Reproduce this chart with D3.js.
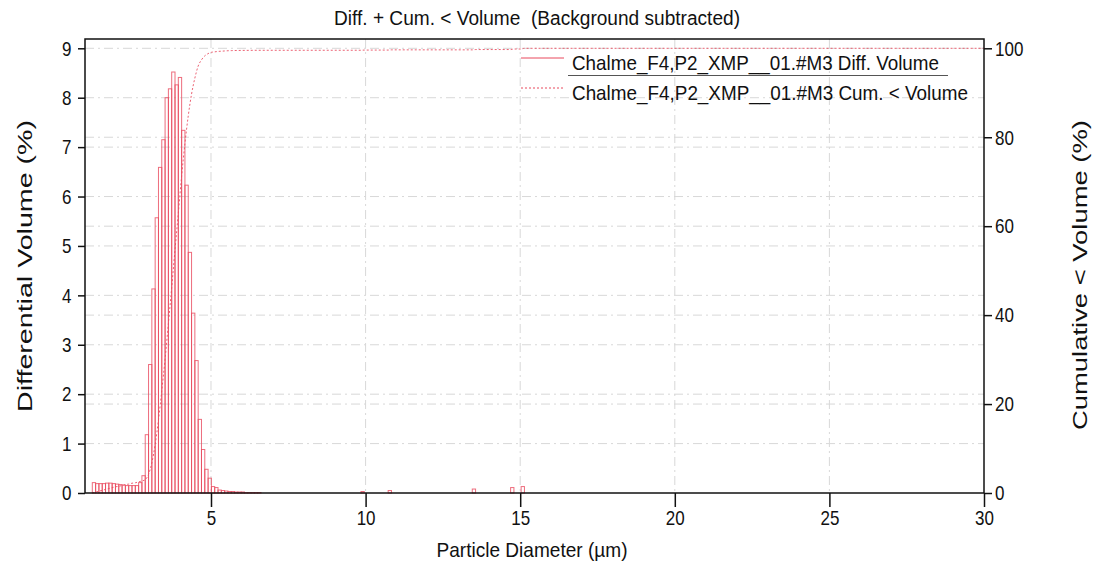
<!DOCTYPE html>
<html>
<head>
<meta charset="utf-8">
<script src="https://cdn.jsdelivr.net/npm/d3@7"></script>
<style>
  html, body { margin: 0; padding: 0; background: #fff; }
  svg text { font-family: "Liberation Sans", Arial, sans-serif; fill: #111; white-space: pre; }
</style>
</head>
<body>
<svg id="chart" width="1095" height="572"></svg>
<script>
// Bin lower edges (µm) of the differential volume histogram
const binEdges = [
  1.161, 1.268, 1.375, 1.482, 1.589, 1.696, 1.803, 1.910, 2.017, 2.124,
  2.231, 2.338, 2.445, 2.552, 2.659, 2.766, 2.873, 2.980, 3.087, 3.194,
  3.301, 3.408, 3.515, 3.622, 3.729, 3.836, 3.943, 4.050, 4.157, 4.264,
  4.371, 4.478, 4.585, 4.692, 4.799, 4.906, 5.013, 5.120, 5.227, 5.334,
  5.441, 5.548, 5.655, 5.762, 5.869, 5.976, 6.083, 6.190, 6.297, 6.404,
  6.511, 9.850, 10.730, 13.450, 14.690, 15.030
];
// Differential volume (%) per bin
const diffVolume = [
  0.21, 0.19, 0.19, 0.19, 0.20, 0.20, 0.19, 0.18, 0.17, 0.16,
  0.15, 0.15, 0.15, 0.15, 0.21, 0.35, 1.18, 2.60, 4.13, 5.57,
  6.59, 7.15, 8.00, 8.18, 8.52, 8.26, 8.41, 7.34, 6.23, 4.87,
  3.64, 2.68, 1.49, 0.88, 0.48, 0.30, 0.13, 0.11, 0.06, 0.05,
  0.04, 0.03, 0.03, 0.02, 0.02, 0.02, 0.01, 0.01, 0.01, 0.01,
  0.01, 0.03, 0.05, 0.08, 0.11, 0.13
];
const binWidth = 0.107;

// Cumulative < volume (%) sampled along the diameter axis
const cumDiameter = [
  1.161, 1.268, 1.375, 1.482, 1.589, 1.696, 1.803, 1.910, 2.017, 2.124,
  2.231, 2.338, 2.445, 2.552, 2.659, 2.766, 2.873, 2.980, 3.087, 3.194,
  3.301, 3.408, 3.515, 3.622, 3.729, 3.836, 3.943, 4.050, 4.157, 4.264,
  4.371, 4.478, 4.585, 4.692, 4.799, 4.906, 5.013, 5.120, 5.227, 5.334,
  5.441, 5.548, 5.655, 6.000, 6.618, 9.850, 9.957, 10.730, 10.837,
  13.450, 13.557, 14.690, 14.797, 15.030, 15.137, 30.000
];
const cumVolume = [
  0.0, 0.2, 0.4, 0.6, 0.8, 1.0, 1.2, 1.4, 1.5, 1.7,
  1.9, 2.0, 2.2, 2.3, 2.5, 2.7, 3.0, 4.2, 6.8, 10.9,
  16.4, 23.0, 30.1, 38.1, 46.2, 54.7, 62.9, 71.3, 78.6, 84.8,
  89.7, 93.3, 96.0, 97.4, 98.3, 98.8, 99.1, 99.2, 99.3, 99.35,
  99.4, 99.45, 99.48, 99.52, 99.55, 99.56, 99.6, 99.6, 99.65,
  99.65, 99.72, 99.72, 99.84, 99.84, 100.0, 100.0
];

// Axis ticks
const xTicks = [5, 10, 15, 20, 25, 30];
const yLeftTicks = [0, 1, 2, 3, 4, 5, 6, 7, 8, 9];
const yRightTicks = [0, 20, 40, 60, 80, 100];

const titleText = "Diff. + Cum. < Volume  (Background subtracted)";
const xLabel = "Particle Diameter (\u00b5m)";
const yLeftLabel = "Differential Volume (%)";
const yRightLabel = "Cumulative < Volume (%)";
const legendLabels = [
  "Chalme_F4,P2_XMP__01.#M3 Diff. Volume",
  "Chalme_F4,P2_XMP__01.#M3 Cum. < Volume"
];

const red = "#e8485c";
const plot = { left: 85, right: 984, top: 39, bottom: 493 };

const svg = d3.select("#chart");

const x = d3.scaleLinear().domain([0.925, 30]).range([plot.left, plot.right]);
const yL = d3.scaleLinear().domain([0, 9]).range([plot.bottom, 48.3]);
const yR = d3.scaleLinear().domain([0, 100]).range([plot.bottom, 48.3]);

// Grid lines
const grid = svg.append("g").attr("stroke", "#d8d8d8").attr("stroke-width", 1)
  .attr("stroke-dasharray", "9,4,2,4").attr("fill", "none");
grid.selectAll("line.gx").data(xTicks.filter(d => d < 30)).join("line")
  .attr("class", "gx")
  .attr("x1", d => x(d)).attr("x2", d => x(d))
  .attr("y1", plot.top).attr("y2", plot.bottom);
grid.selectAll("line.gl").data(yLeftTicks.filter(d => d > 0)).join("line")
  .attr("class", "gl")
  .attr("x1", plot.left).attr("x2", plot.right)
  .attr("y1", d => yL(d)).attr("y2", d => yL(d));
grid.selectAll("line.gr").data(yRightTicks.filter(d => d > 0 && d < 100)).join("line")
  .attr("class", "gr")
  .attr("x1", plot.left).attr("x2", plot.right)
  .attr("y1", d => yR(d)).attr("y2", d => yR(d));

// Histogram bars
const bars = binEdges.map((e, i) => ({ e, v: diffVolume[i] }));
svg.append("g").selectAll("rect").data(bars).join("rect")
  .attr("x", d => x(d.e))
  .attr("y", d => yL(d.v))
  .attr("width", d => x(d.e + binWidth) - x(d.e))
  .attr("height", d => yL(0) - yL(d.v))
  .attr("fill", "none")
  .attr("stroke", red)
  .attr("stroke-opacity", 0.8)
  .attr("stroke-width", 1);

// Cumulative curve
const cumData = cumDiameter.map((d, i) => [d, cumVolume[i]]);
const line = d3.line().x(d => x(d[0])).y(d => yR(d[1])).curve(d3.curveMonotoneX);
svg.append("path").datum(cumData)
  .attr("d", line)
  .attr("fill", "none")
  .attr("stroke", red)
  .attr("stroke-opacity", 0.85)
  .attr("stroke-width", 1)
  .attr("stroke-dasharray", "2,2");

// Axes
const xAxis = svg.append("g").attr("transform", `translate(0,${plot.bottom})`)
  .call(d3.axisBottom(x).tickValues(xTicks).tickSize(14).tickSizeOuter(0).tickPadding(4));
const yAxisL = svg.append("g").attr("transform", `translate(${plot.left},0)`)
  .call(d3.axisLeft(yL).tickValues(yLeftTicks).tickSize(7).tickSizeOuter(0).tickPadding(9));
const yAxisR = svg.append("g").attr("transform", `translate(${plot.right},0)`)
  .call(d3.axisRight(yR).tickValues(yRightTicks).tickSize(8).tickSizeOuter(0).tickPadding(5));

[xAxis, yAxisL, yAxisR].forEach(g => {
  g.select(".domain").remove();
  g.selectAll(".tick line").attr("stroke", "#111").attr("stroke-width", 1.5);
  g.selectAll(".tick text").attr("font-size", "20px").attr("fill", "#111")
    .style("font-family", "'Liberation Sans',Arial,sans-serif");
});
// Narrow digit labels
xAxis.selectAll(".tick text").attr("transform", "scale(0.85,1)");
yAxisL.selectAll(".tick text").attr("transform", "scale(0.85,1)").attr("dy", "0.34em");
yAxisR.selectAll(".tick text").attr("transform", "scale(0.85,1)").attr("dy", "0.34em");

// Frame
svg.append("rect")
  .attr("x", plot.left).attr("y", plot.top)
  .attr("width", plot.right - plot.left).attr("height", plot.bottom - plot.top)
  .attr("fill", "none").attr("stroke", "#111").attr("stroke-width", 1.5);

// Title and axis labels
svg.append("text").attr("x", 537).attr("y", 25).attr("text-anchor", "middle")
  .attr("font-size", "20px").attr("textLength", 406).attr("lengthAdjust", "spacingAndGlyphs")
  .text(titleText);
svg.append("text").attr("x", 532).attr("y", 557).attr("text-anchor", "middle")
  .attr("font-size", "21px").attr("textLength", 191).attr("lengthAdjust", "spacingAndGlyphs")
  .text(xLabel);
svg.append("text").attr("transform", "translate(32,266) rotate(-90)")
  .attr("text-anchor", "middle").attr("font-size", "21px")
  .attr("textLength", 292).attr("lengthAdjust", "spacingAndGlyphs").text(yLeftLabel);
svg.append("text").attr("transform", "translate(1087,275) rotate(-90)")
  .attr("text-anchor", "middle").attr("font-size", "21px")
  .attr("textLength", 310).attr("lengthAdjust", "spacingAndGlyphs").text(yRightLabel);

// Legend
const legend = svg.append("g");
const legendRows = [
  { y: 58, dash: null, label: legendLabels[0], len: 367 },
  { y: 88, dash: "2,2", label: legendLabels[1], len: 396 }
];
legend.selectAll("line.sample").data(legendRows).join("line")
  .attr("class", "sample")
  .attr("x1", 521).attr("x2", 564)
  .attr("y1", d => d.y).attr("y2", d => d.y)
  .attr("stroke", red).attr("stroke-width", 1)
  .attr("stroke-dasharray", d => d.dash);
legend.selectAll("text").data(legendRows).join("text")
  .attr("x", 572).attr("y", d => d.y + 12)
  .attr("font-size", "21px")
  .attr("textLength", d => d.len).attr("lengthAdjust", "spacingAndGlyphs")
  .text(d => d.label);
legend.append("line")
  .attr("x1", 568).attr("x2", 948).attr("y1", 75.5).attr("y2", 75.5)
  .attr("stroke", "#555").attr("stroke-width", 1);
</script>
</body>
</html>
